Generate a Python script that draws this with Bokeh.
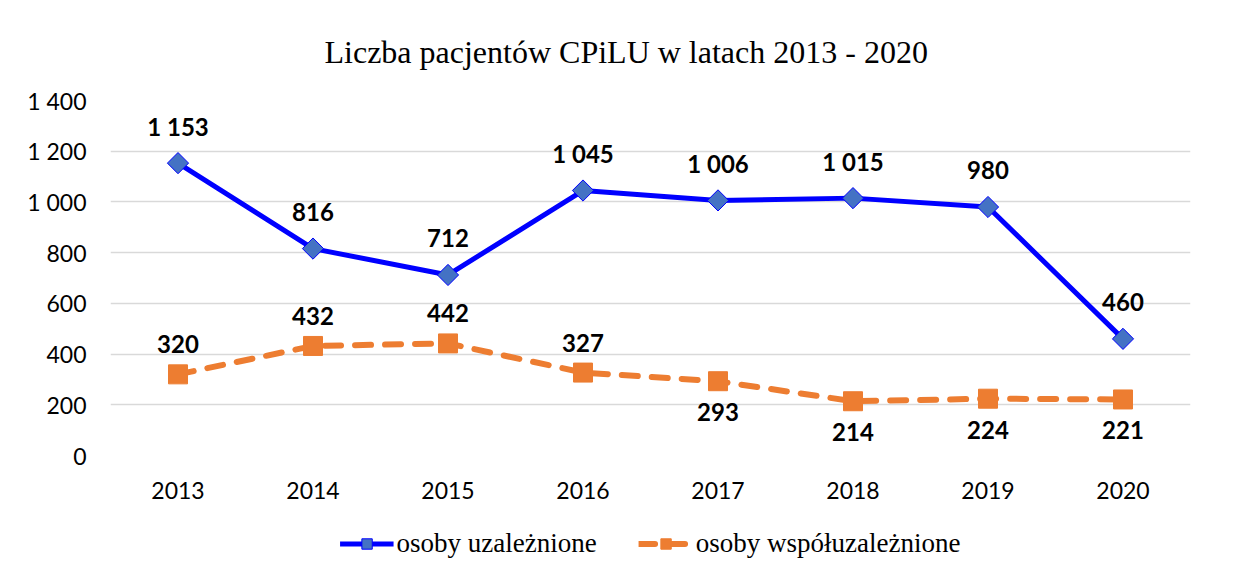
from bokeh.plotting import figure
from bokeh.models import FixedTicker, Legend, LegendItem, ColumnDataSource
from bokeh.layouts import column
from bokeh.embed import file_html
from bokeh.resources import INLINE
from bokeh.core.properties import value
import math

years = ["2013", "2014", "2015", "2016", "2017", "2018", "2019", "2020"]
uzaleznione = [1153, 816, 712, 1045, 1006, 1015, 980, 460]
wspoluzaleznione = [320, 432, 442, 327, 293, 214, 224, 221]
y_ticks = [0, 200, 400, 600, 800, 1000, 1200, 1400]
title_text = "Liczba pacjentów CPiLU w latach 2013 - 2020"
series_names = ["osoby uzależnione", "osoby współuzależnione"]

def fmt(v):
    return f"{v:,}".replace(",", " ")

BLUE = "#0000ff"
BLUE_FILL = "#4472c4"
ORANGE = "#ed7d31"

p = figure(x_range=years, y_range=(0, 1400), width=1232, height=520,
           output_backend="svg", toolbar_location=None,
           min_border_left=110, min_border_right=42, min_border_top=100,
           min_border_bottom=65)
p.outline_line_color = None
p.background_fill_color = "white"
p.border_fill_color = "white"

p.title.text = title_text
p.title.align = "left"
p.title.offset = 214
p.title.text_font = "Liberation Serif"
p.title.text_font_size = "32px"
p.title.text_font_style = "normal"
p.title.text_color = "#000000"
p.title.standoff = 62

p.xgrid.grid_line_color = None
p.ygrid.grid_line_color = "#d9d9d9"
p.ygrid.grid_line_width = 1.5

p.yaxis.ticker = FixedTicker(ticks=y_ticks)
p.yaxis.major_label_overrides = {t: fmt(t) for t in y_ticks}
for ax in (p.xaxis[0], p.yaxis[0]):
    ax.axis_line_color = None
    ax.major_tick_line_color = None
    ax.minor_tick_line_color = None
    ax.major_label_text_font = "Lato"
    ax.major_label_text_font_size = "23px"
    ax.major_label_text_color = "#000000"
p.yaxis.major_label_standoff = 18
p.xaxis.major_label_standoff = 20

src1 = ColumnDataSource(dict(x=years, y=uzaleznione, t=[fmt(v) for v in uzaleznione]))
src2 = ColumnDataSource(dict(x=years, y=wspoluzaleznione))

line1 = dict(line_color=BLUE, line_width=5, line_join="round")
mark1 = dict(marker="square", angle=math.pi / 4, size=15, fill_color=BLUE_FILL,
             line_color=BLUE, line_width=1)
line2 = dict(line_color=ORANGE, line_width=6, line_dash="16 14", line_cap="round")
mark2 = dict(marker="square", size=19, fill_color=ORANGE, line_color=ORANGE)

p.line("x", "y", source=src1, **line1)
p.scatter("x", "y", source=src1, **mark1)
p.line("x", "y", source=src2, **line2)
p.scatter("x", "y", source=src2, **mark2)

label_style = dict(text_align="center", text_baseline="middle", text_font=value("Lato"),
                   text_font_style="bold", text_font_size="24px", text_color="#000000")
p.text("x", "y", text="t", source=src1, y_offset=-37, **label_style)

n_above = 4
src2a = ColumnDataSource(dict(x=years[:n_above], y=wspoluzaleznione[:n_above],
                              t=[fmt(v) for v in wspoluzaleznione[:n_above]]))
src2b = ColumnDataSource(dict(x=years[n_above:], y=wspoluzaleznione[n_above:],
                              t=[fmt(v) for v in wspoluzaleznione[n_above:]]))
p.text("x", "y", text="t", source=src2a, y_offset=-30, **label_style)
p.text("x", "y", text="t", source=src2b, y_offset=31, **label_style)

# legend strip below the chart (same series, drawn out of view)
q = figure(x_range=years, y_range=(-3, -2), width=1232, height=46,
           output_backend="svg", toolbar_location=None,
           min_border_left=4, min_border_right=0, min_border_top=0, min_border_bottom=0)
q.axis.visible = False
q.grid.visible = False
q.outline_line_color = None
l1 = q.line("x", "y", source=src1, **line1)
m1 = q.scatter("x", "y", source=src1, **dict(mark1, size=17))
l2 = q.line("x", "y", source=src2, **line2)
m2 = q.scatter("x", "y", source=src2, **mark2)

legend = Legend(items=[LegendItem(label=series_names[0], renderers=[l1, m1]),
                       LegendItem(label=series_names[1], renderers=[l2, m2])],
                orientation="horizontal", location="center",
                label_text_font="Liberation Serif", label_text_font_size="27px",
                label_text_color="#000000", glyph_width=54, glyph_height=26,
                spacing=42, label_standoff=3, border_line_color=None,
                background_fill_alpha=0, padding=0, margin=0)
q.add_layout(legend, "center")

layout = column(p, q, spacing=0)
open("out.html", "w").write(file_html(layout, INLINE))
